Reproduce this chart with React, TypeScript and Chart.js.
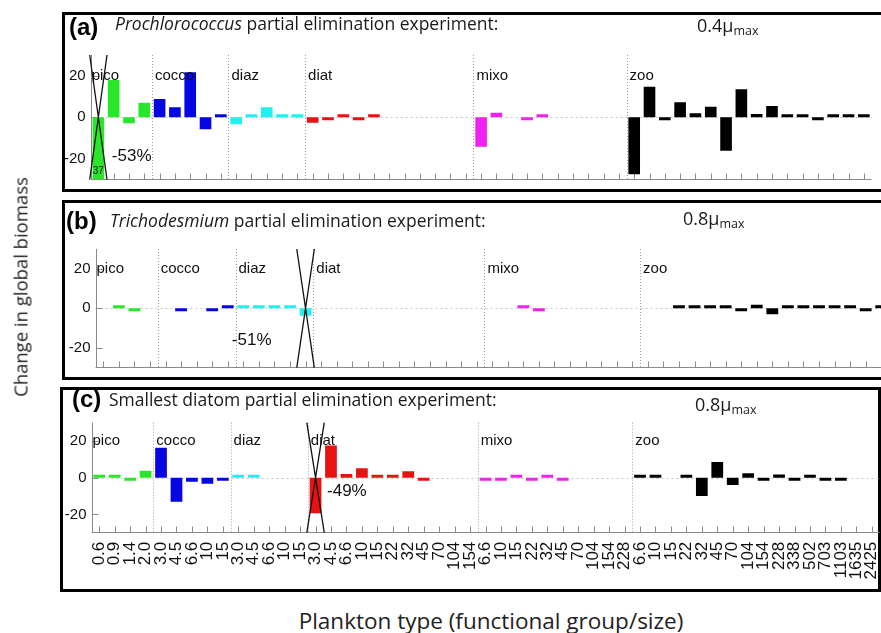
import React, { useEffect, useRef } from 'react';
import { Chart, registerables } from 'chart.js';

Chart.register(...registerables);

// ---------- data ----------
const SIZES = [
  '0.6', '0.9', '1.4', '2.0',
  '3.0', '4.5', '6.6', '10', '15',
  '3.0', '4.5', '6.6', '10', '15',
  '3.0', '4.5', '6.6', '10', '15', '22', '32', '45', '70', '104', '154',
  '6.6', '10', '15', '22', '32', '45', '70', '104', '154', '228',
  '6.6', '10', '15', '22', '32', '45', '70', '104', '154', '228', '338', '502', '703', '1103', '1635', '2425',
];
const GROUP_NAMES = ['pico', 'cocco', 'diaz', 'diat', 'mixo', 'zoo'];
const GROUP_COUNTS = [4, 5, 5, 11, 10, 16];
const GROUP_COLORS = ['#2ae62a', '#0606e2', '#22f0f0', '#e81212', '#f022f0', '#000000'];
const Y_TICKS = [-20, 0, 20];

// (a) Prochlorococcus partial elimination
const PROCHLORO_CHANGE = [
  -37, 18, -2.9, 7,
  8.8, 4.8, 21.7, -5.8, 1.5,
  -3.4, 1.1, 4.8, 0.5, 0.5,
  -2.6, -0.5, 1.2, -0.5, 1, null, null, null, null, null, null,
  -14.2, 2.2, null, -0.8, 0.5, null, null, null, null, null,
  -27.5, 14.7, -0.8, 7.2, 1.9, 5.1, -16.1, 13.5, 1.6, 5.4, 0.5, 0.5, -0.8, 0.8, 0.4, 0.5,
];
// (b) Trichodesmium partial elimination
const TRICHO_CHANGE = [
  null, 0.7, -0.8, null,
  null, -0.3, null, -0.5, 0.8,
  0.3, 0.3, 0.3, 0.7, -3.7,
  null, null, null, null, null, null, null, null, null, null, null,
  null, null, 0.3, -0.3, null, null, null, null, null, null,
  null, null, 0.3, 0.3, 0.3, 0.3, -0.3, 1.8, -3, 1, 0.3, 0.3, 0.3, 1, -1.3, 0.3,
];
// (c) Smallest diatom partial elimination
const DIATOM_CHANGE = [
  0.5, 0.5, -0.8, 3.8,
  16.4, -13.1, -2.2, -3.3, -1,
  0.4, 0.4, null, null, null,
  -19.4, 17.5, 2, 5.1, 1.5, 1.2, 3.5, -0.5, null, null, null,
  -0.5, -0.5, 0.3, -0.5, 0.5, -0.5, null, null, null, null,
  0.3, 0.3, null, 0.5, -10, 8.6, -4, 2.4, -0.8, 1.8, -0.8, 1.3, -0.5, -0.3, null, null,
];

const ELIM_INDEX = [0, 13, 14];
const ELIM_LABELS = ['-53%', '-51%', '-49%'];
const CLIPPED_LABEL = '37';
const TITLE_TAGS = ['(a)', '(b)', '(c)'];
const TITLE_ITALIC = ['Prochlorococcus', 'Trichodesmium', ''];
const TITLE_REST = [' partial elimination experiment:', ' partial elimination experiment:', 'Smallest diatom partial elimination experiment:'];
const RATES = ['0.4', '0.8', '0.8'];

// ---------- layout / style ----------
const CANVAS_W = 900;
const Y_AXIS_W = 40;
const X_AXIS_H = 55;
const SANS = '"Liberation Sans", Arial, sans-serif';
const TITLE_FONT = '"Open Sans", sans-serif';

const PANELS = [
  {
    values: PROCHLORO_CHANGE, box: { left: 62, top: 12, width: 830, height: 180 },
    canvasTop: 12, canvasH: 180, plotLeft: 90.7, plotRight: 871.5, plotTop: 55, plotBottom: 179.5, showX: false,
    note: { dx: 13.5, value: -19, align: 'left' }, clipped: true,
    tag: { x: 69, y: 35 }, text: { x: 115, y: 30 }, rate: { x: 697, y: 32 },
  },
  {
    values: TRICHO_CHANGE, box: { left: 62, top: 200, width: 830, height: 180 },
    canvasTop: 200, canvasH: 180, plotLeft: 95.5, plotRight: 889, plotTop: 249, plotBottom: 367.7, showX: false,
    note: { dx: -34, value: -16, align: 'right' }, clipped: false,
    tag: { x: 66, y: 229 }, text: { x: 110, y: 227 }, rate: { x: 683, y: 225 },
  },
  {
    values: DIATOM_CHANGE, box: { left: 60, top: 387, width: 821, height: 205 },
    canvasTop: 387, canvasH: 205, plotLeft: 91.5, plotRight: 879.5, plotTop: 422.7, plotBottom: 532.7, showX: true,
    note: { dx: 11.5, value: -7.6, align: 'left' }, clipped: false,
    tag: { x: 72, y: 407 }, text: { x: 109, y: 406 }, rate: { x: 695, y: 411 },
  },
];

function groupOf(i: number) {
  let acc = 0;
  for (let g = 0; g < GROUP_COUNTS.length; g++) {
    acc += GROUP_COUNTS[g];
    if (i < acc) return g;
  }
  return GROUP_COUNTS.length - 1;
}

function overlayPlugin(p: any, k: number) {
  const line = (ctx: any, x1: number, y1: number, x2: number, y2: number) => {
    ctx.beginPath();
    ctx.moveTo(x1, y1);
    ctx.lineTo(x2, y2);
    ctx.stroke();
  };
  return {
    id: 'overlay' + k,
    beforeDatasetsDraw(chart: any) {
      const { ctx, chartArea: a, scales } = chart;
      const x = scales.x, y = scales.y;
      const n = SIZES.length;
      const w = (a.right - a.left) / n;
      ctx.save();
      ctx.lineWidth = 1;
      ctx.strokeStyle = '#c6c6c6';
      ctx.setLineDash([2, 3]);
      const y0 = Math.round(y.getPixelForValue(0)) + 0.5;
      line(ctx, a.left, y0, a.right, y0);
      ctx.strokeStyle = '#a0a0a0';
      ctx.setLineDash([1, 2]);
      let idx = 0;
      GROUP_COUNTS.forEach((c, g) => {
        if (g > 0) {
          const xx = Math.round(x.getPixelForValue(idx) - w / 2) + 0.5;
          line(ctx, xx, a.top, xx, a.bottom);
        }
        idx += c;
      });
      ctx.setLineDash([]);
      ctx.strokeStyle = '#8a8a8a';
      const ax = Math.round(a.left) + 0.5;
      const ay = Math.round(a.bottom) - 0.5;
      line(ctx, ax, a.top, ax, ay);
      line(ctx, a.left, ay, a.right, ay);
      for (let i = 0; i < n; i++) {
        const cx = Math.round(x.getPixelForValue(i)) + 0.5;
        line(ctx, cx, ay, cx, ay - 6);
      }
      Y_TICKS.forEach((v) => {
        const yy = Math.round(y.getPixelForValue(v)) + 0.5;
        line(ctx, ax, yy, ax + 6, yy);
      });
      ctx.restore();
    },
    afterDatasetsDraw(chart: any) {
      const { ctx, chartArea: a, scales } = chart;
      const x = scales.x, y = scales.y;
      const n = SIZES.length;
      const w = (a.right - a.left) / n;
      const T = p.canvasTop;
      ctx.save();
      ctx.fillStyle = '#111';
      ctx.font = `15px ${SANS}`;
      ctx.textBaseline = 'middle';
      ctx.textAlign = 'left';
      let idx = 0;
      const ly = y.getPixelForValue(20);
      GROUP_COUNTS.forEach((c, g) => {
        const xx = x.getPixelForValue(idx) - w / 2;
        ctx.fillText(GROUP_NAMES[g], xx + (g === 0 ? 1 : 3), ly);
        idx += c;
      });
      const e = ELIM_INDEX[k];
      const ec = x.getPixelForValue(e);
      ctx.strokeStyle = '#111';
      ctx.lineWidth = 1.3;
      ctx.beginPath();
      ctx.moveTo(ec - w / 2 - 1, a.top);
      ctx.lineTo(ec + w / 2 + 1, a.bottom);
      ctx.moveTo(ec + w / 2 + 1, a.top);
      ctx.lineTo(ec - w / 2 - 1, a.bottom);
      ctx.stroke();
      ctx.font = `17px ${SANS}`;
      ctx.textAlign = p.note.align;
      ctx.fillText(ELIM_LABELS[k], ec + p.note.dx, y.getPixelForValue(p.note.value));
      if (p.clipped) {
        ctx.font = `10px ${SANS}`;
        ctx.textAlign = 'center';
        ctx.fillText(CLIPPED_LABEL, ec, a.bottom - 8);
      }
      ctx.textBaseline = 'alphabetic';
      ctx.textAlign = 'left';
      ctx.fillStyle = '#000';
      ctx.font = `bold 24px ${SANS}`;
      ctx.fillText(TITLE_TAGS[k], p.tag.x, p.tag.y - T);
      let tx = p.text.x;
      ctx.fillStyle = '#1a1a1a';
      if (TITLE_ITALIC[k]) {
        ctx.font = `italic 17.5px ${TITLE_FONT}`;
        ctx.fillText(TITLE_ITALIC[k], tx, p.text.y - T);
        tx += ctx.measureText(TITLE_ITALIC[k]).width;
      }
      ctx.font = `17.5px ${TITLE_FONT}`;
      ctx.fillText(TITLE_REST[k], tx, p.text.y - T);
      ctx.font = `18px ${TITLE_FONT}`;
      const rate = RATES[k] + 'μ';
      ctx.fillText(rate, p.rate.x, p.rate.y - T);
      const rw = ctx.measureText(rate).width;
      ctx.font = `12.5px ${TITLE_FONT}`;
      ctx.fillText('max', p.rate.x + rw, p.rate.y - T + 3);
      ctx.restore();
    },
  };
}

function buildConfig(p: any, k: number): any {
  const colors = SIZES.map((_, i) => GROUP_COLORS[groupOf(i)]);
  const xH = p.showX ? X_AXIS_H : 0;
  return {
    type: 'bar',
    data: {
      labels: SIZES,
      datasets: [{
        data: p.values,
        backgroundColor: colors,
        borderWidth: 0,
        barPercentage: 0.76,
        categoryPercentage: 1,
        minBarLength: 3,
      }],
    },
    options: {
      responsive: false,
      animation: false,
      events: [],
      layout: {
        autoPadding: false,
        padding: {
          left: p.plotLeft - Y_AXIS_W,
          right: CANVAS_W - p.plotRight,
          top: p.plotTop - p.canvasTop,
          bottom: p.canvasTop + p.canvasH - p.plotBottom - xH,
        },
      },
      plugins: { legend: { display: false }, tooltip: { enabled: false }, title: { display: false } },
      scales: {
        x: {
          type: 'category',
          offset: true,
          display: p.showX,
          grid: { display: false, drawTicks: false },
          border: { display: false },
          ticks: {
            autoSkip: false, minRotation: 90, maxRotation: 90, padding: 9,
            color: '#111', font: { family: SANS, size: 17 },
          },
          afterFit: (s: any) => { s.height = xH; s.paddingLeft = 0; s.paddingRight = 0; },
        },
        y: {
          type: 'linear',
          min: -30,
          max: 30,
          grid: { display: false, drawTicks: false },
          border: { display: false },
          afterBuildTicks: (s: any) => { s.ticks = Y_TICKS.map((v) => ({ value: v })); },
          afterFit: (s: any) => { s.width = Y_AXIS_W; s.paddingTop = 0; s.paddingBottom = 0; },
          ticks: { color: '#111', padding: 5, font: { family: SANS, size: 15 } },
        },
      },
    },
    plugins: [overlayPlugin(p, k)],
  };
}

export default function App() {
  const refA = useRef<HTMLCanvasElement>(null);
  const refB = useRef<HTMLCanvasElement>(null);
  const refC = useRef<HTMLCanvasElement>(null);
  const refs = [refA, refB, refC];

  useEffect(() => {
    const charts = PANELS.map((p, k) => new Chart(refs[k].current as HTMLCanvasElement, buildConfig(p, k)));
    return () => charts.forEach((c) => c.destroy());
  }, []);

  return (
    <div style={{ position: 'absolute', left: 0, top: 0, width: 881, height: 633, overflow: 'hidden', background: '#fff' }}>
      {PANELS.map((p, k) => (
        <div key={'box' + k} style={{
          position: 'absolute', left: p.box.left, top: p.box.top, width: p.box.width, height: p.box.height,
          border: '3px solid #000', boxSizing: 'border-box',
        }} />
      ))}
      {PANELS.map((p, k) => (
        <canvas key={'cv' + k} ref={refs[k]} width={CANVAS_W} height={p.canvasH}
          style={{ position: 'absolute', left: 0, top: p.canvasTop, width: CANVAS_W, height: p.canvasH }} />
      ))}
      <div style={{
        position: 'absolute', left: 20, top: 287, transform: 'translate(-50%, -50%) rotate(-90deg)',
        whiteSpace: 'nowrap', fontFamily: TITLE_FONT, fontSize: 18.5, color: '#222',
      }}>Change in global biomass</div>
      <div style={{
        position: 'absolute', left: 491, top: 620, transform: 'translate(-50%, -50%)',
        whiteSpace: 'nowrap', fontFamily: TITLE_FONT, fontSize: 22.5, color: '#222',
      }}>Plankton type (functional group/size)</div>
    </div>
  );
}
